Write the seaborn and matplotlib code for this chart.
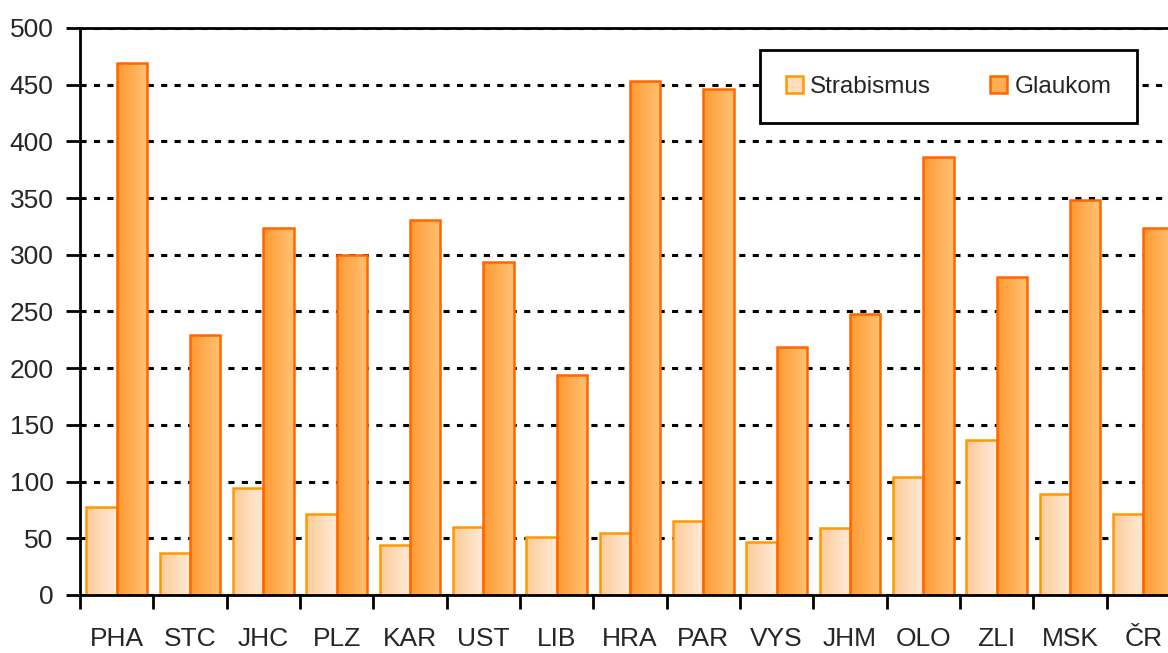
import numpy as np
import pandas as pd
import seaborn as sns
import matplotlib.pyplot as plt
from matplotlib.colors import LinearSegmentedColormap
from matplotlib.patches import Patch

# Data
regions = ['PHA', 'STC', 'JHC', 'PLZ', 'KAR', 'UST', 'LIB', 'HRA', 'PAR', 'VYS',
           'JHM', 'OLO', 'ZLI', 'MSK', 'ČR']
strabismus = [78, 37, 94, 71, 44, 60, 51, 55, 65, 47, 59, 104, 137, 89, 71]
glaukom = [469, 229, 324, 300, 331, 294, 194, 453, 446, 219, 248, 386, 280, 348, 324]
series = ['Strabismus', 'Glaukom']

df = pd.DataFrame({'region': regions * 2,
                   'value': strabismus + glaukom,
                   'series': ['Strabismus'] * len(regions) + ['Glaukom'] * len(regions)})

edge_colors = {'Strabismus': '#FF9900', 'Glaukom': '#FF6600'}
grad_colors = {'Strabismus': ('#FCCB98', '#FFEBD8'), 'Glaukom': ('#FF9A33', '#FFC273')}

sns.set_style('white')
plt.rcParams['font.family'] = ['Liberation Sans', 'DejaVu Sans']

fig = plt.figure(figsize=(11.68, 6.53), dpi=100)
ax = fig.add_axes([80 / 1168, 58 / 653, 1100 / 1168, 567 / 653])

sns.barplot(data=df, x='region', y='value', hue='series', hue_order=series,
            palette=['#FFE0C0', '#FFB060'], width=0.83, gap=0, ax=ax, legend=False)

# edge colours and left-to-right gradient fill of each bar
n = len(regions)
for i, patch in enumerate(ax.patches):
    name = series[i // n]
    patch.set_edgecolor(edge_colors[name])
    patch.set_linewidth(1.8)
    patch.set_facecolor('none')
    patch.set_zorder(2)
    x0, y0 = patch.get_x(), patch.get_y()
    w, h = patch.get_width(), patch.get_height()
    cmap = LinearSegmentedColormap.from_list(name, grad_colors[name])
    img = ax.imshow(np.linspace(0, 1, 64).reshape(1, -1), cmap=cmap, aspect='auto',
                    extent=[x0, x0 + w, y0, y0 + h], zorder=1.5, interpolation='bilinear')
    img.set_clip_path(patch)

ax.set_xlim(-0.5, n - 0.5)
ax.set_ylim(0, 500)
ax.set_xlabel('')
ax.set_ylabel('')

# y axis
ax.set_yticks(np.arange(0, 501, 50))
ax.tick_params(axis='y', which='major', direction='out', length=10, width=2,
               color='black', labelsize=19, pad=9, left=True)
ax.set_axisbelow(True)
ax.yaxis.grid(True, color='black', linestyle=(0, (2, 2.4)), linewidth=2.2)
ax.xaxis.grid(False)

# x axis: ticks between categories, labels centred
ax.set_xticks(np.arange(-0.5, n, 1))
ax.set_xticklabels([])
ax.set_xticks(np.arange(n), minor=True)
ax.set_xticklabels(regions, minor=True)
ax.tick_params(axis='x', which='major', direction='out', length=10, width=2,
               color='black', bottom=True)
ax.tick_params(axis='x', which='minor', length=0, labelsize=19, pad=23)

for side in ['left', 'bottom', 'top']:
    ax.spines[side].set_visible(True)
    ax.spines[side].set_color('black')
    ax.spines[side].set_linewidth(2)
ax.spines['right'].set_visible(False)

handles = [Patch(facecolor='#FDDDBB', edgecolor=edge_colors['Strabismus'], linewidth=1.8),
           Patch(facecolor='#FFAE55', edgecolor=edge_colors['Glaukom'], linewidth=1.8)]
leg = ax.legend(handles, series, ncol=2, loc='upper left', mode='expand',
                bbox_to_anchor=(680 / 1100, 1 - 22 / 567, 377 / 1100, 0.0),
                fontsize=17.5, frameon=True, fancybox=False, framealpha=1,
                handlelength=0.7, handleheight=0.7, handletextpad=0.3,
                borderpad=1.05, borderaxespad=0)
leg.get_frame().set_edgecolor('black')
leg.get_frame().set_linewidth(2)

fig.savefig('out.png', dpi=100)
